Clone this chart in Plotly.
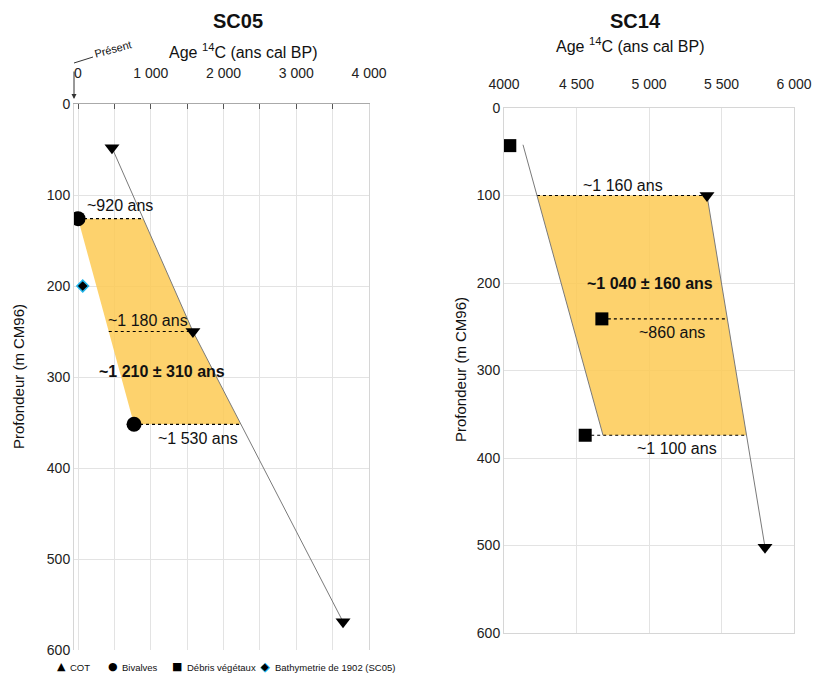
import numpy as np
import plotly.graph_objects as go

# ---------------- data ----------------
# SC05
sc05_cot_age = [467, 1580, 3643]
sc05_cot_depth = [48, 250, 569]
sc05_biv_age = [0, 770]
sc05_biv_depth = [126, 352]
sc05_bathy_age = [65]
sc05_bathy_depth = [200]
sc05_labels = ["~920 ans", "~1 180 ans", "<b>~1 210 ± 310 ans</b>", "~1 530 ans"]
sc05_label_age = [577, 962, 1155, 1650]
sc05_label_depth = [112, 238, 294, 368]
sc05_ticks = [0, 1000, 2000, 3000, 4000]
sc05_ticktext = ["0", "1 000", "2 000", "3 000", "4 000"]

# SC14
sc14_cot_age = [5400, 5800]
sc14_cot_depth = [100, 502]
sc14_veg_age = [4040, 4675, 4560]
sc14_veg_depth = [43, 241, 374]
sc14_model_age = [4131, 4683]
sc14_model_depth = [42, 374]
sc14_labels = ["~1 160 ans", "<b>~1 040 ± 160 ans</b>", "~860 ans", "~1 100 ans"]
sc14_label_age = [4821, 5007, 5159, 5193]
sc14_label_depth = [89, 200, 257, 389]
sc14_ticks = [4000, 4500, 5000, 5500, 6000]
sc14_ticktext = ["4000", "4 500", "5 000", "5 500", "6 000"]

depth_ticks = [0, 100, 200, 300, 400, 500, 600]

legend_items = ["COT", "Bivalves", "Débris végétaux", "Bathymetrie de 1902 (SC05)"]
legend_glyphs = ["▲", "●", "■", "◆"]

# ---------------- styling ----------------
W, H = 816, 684
FONT = "Liberation Sans, Arial, sans-serif"
FILL = "rgba(253,202,84,0.85)"
GRID = "#e3e3e3"
LINE = "#7a7a7a"


def px(x):
    return x / W


def py(y):
    return 1 - y / H


def at(d, depths, ages):
    return float(np.interp(d, depths, ages))


fig = go.Figure()

# ---- SC05 ----
a126 = at(sc05_biv_depth[0], sc05_cot_depth, sc05_cot_age)
a352 = at(sc05_biv_depth[1], sc05_cot_depth, sc05_cot_age)
fig.add_trace(go.Scatter(
    x=[sc05_biv_age[0], a126, sc05_cot_age[1], a352, sc05_biv_age[1], sc05_biv_age[0]],
    y=[sc05_biv_depth[0], sc05_biv_depth[0], sc05_cot_depth[1], sc05_biv_depth[1],
       sc05_biv_depth[1], sc05_biv_depth[0]],
    fill="toself", fillcolor=FILL, mode="lines", line=dict(width=0),
    hoverinfo="skip", showlegend=False, xaxis="x", yaxis="y"))
left250 = at(sc05_cot_depth[1], sc05_biv_depth, sc05_biv_age)
fig.add_trace(go.Scatter(
    x=[sc05_biv_age[0], a126, None, left250, sc05_cot_age[1], None, sc05_biv_age[1], a352],
    y=[sc05_biv_depth[0], sc05_biv_depth[0], None, sc05_cot_depth[1], sc05_cot_depth[1], None,
       sc05_biv_depth[1], sc05_biv_depth[1]],
    mode="lines", line=dict(color="black", width=1.2, dash="dot"),
    showlegend=False, xaxis="x", yaxis="y"))
fig.add_trace(go.Scatter(x=sc05_cot_age, y=sc05_cot_depth, mode="lines",
                         line=dict(color=LINE, width=1), showlegend=False,
                         xaxis="x", yaxis="y"))
fig.add_trace(go.Scatter(x=sc05_cot_age, y=sc05_cot_depth, mode="markers",
                         marker=dict(symbol="triangle-down", size=13, color="black"),
                         name="COT", showlegend=False, xaxis="x", yaxis="y"))
fig.add_trace(go.Scatter(x=sc05_biv_age, y=sc05_biv_depth, mode="markers",
                         marker=dict(symbol="circle", size=15, color="black"),
                         name="Bivalves", showlegend=False, xaxis="x", yaxis="y"))
fig.add_trace(go.Scatter(x=sc05_bathy_age, y=sc05_bathy_depth, mode="markers",
                         marker=dict(symbol="diamond", size=9, color="black",
                                     line=dict(color="#22b5ea", width=1.5)),
                         name="Bathymetrie de 1902 (SC05)", showlegend=False,
                         xaxis="x", yaxis="y"))

# ---- SC14 ----
m100 = at(sc14_cot_depth[0], sc14_model_depth, sc14_model_age)
c374 = at(sc14_model_depth[1], sc14_cot_depth, sc14_cot_age)
c241 = at(sc14_veg_depth[1], sc14_cot_depth, sc14_cot_age)
fig.add_trace(go.Scatter(
    x=[m100, sc14_cot_age[0], c374, sc14_model_age[1], m100],
    y=[sc14_cot_depth[0], sc14_cot_depth[0], sc14_model_depth[1], sc14_model_depth[1],
       sc14_cot_depth[0]],
    fill="toself", fillcolor=FILL, mode="lines", line=dict(width=0),
    hoverinfo="skip", showlegend=False, xaxis="x2", yaxis="y2"))
fig.add_trace(go.Scatter(
    x=[m100, sc14_cot_age[0], None, sc14_veg_age[1], c241, None, sc14_veg_age[2], c374],
    y=[sc14_cot_depth[0], sc14_cot_depth[0], None, sc14_veg_depth[1], sc14_veg_depth[1], None,
       sc14_veg_depth[2], sc14_veg_depth[2]],
    mode="lines", line=dict(color="black", width=1.2, dash="dot"),
    showlegend=False, xaxis="x2", yaxis="y2"))
fig.add_trace(go.Scatter(x=sc14_model_age, y=sc14_model_depth, mode="lines",
                         line=dict(color=LINE, width=1), showlegend=False,
                         xaxis="x2", yaxis="y2"))
fig.add_trace(go.Scatter(x=sc14_cot_age, y=sc14_cot_depth, mode="lines",
                         line=dict(color=LINE, width=1), showlegend=False,
                         xaxis="x2", yaxis="y2"))
fig.add_trace(go.Scatter(x=sc14_cot_age, y=sc14_cot_depth, mode="markers",
                         marker=dict(symbol="triangle-down", size=13, color="black"),
                         name="COT", showlegend=False, xaxis="x2", yaxis="y2"))
fig.add_trace(go.Scatter(x=sc14_veg_age, y=sc14_veg_depth, mode="markers",
                         marker=dict(symbol="square", size=13, color="black"),
                         name="Débris végétaux", showlegend=False, xaxis="x2", yaxis="y2"))

# ---------------- axes ----------------
common_y = dict(range=[600, 0], tickvals=depth_ticks, showgrid=True, gridcolor=GRID,
                zeroline=False, ticks="", tickfont=dict(size=14, color="#222"),
                automargin=False)
fig.update_layout(
    xaxis=dict(domain=[px(74), px(369)], range=[-55, 4000], side="top", anchor="y",
               tickvals=sc05_ticks, ticktext=sc05_ticktext,
               tickfont=dict(size=14, color="#222"), ticks="inside", ticklen=5,
               tickcolor="#555", showgrid=True, gridcolor=GRID, zeroline=False,
               showline=True, linecolor="#aaaaaa", ticklabelstandoff=19,
               minor=dict(tickvals=[500, 1500, 2500, 3500], showgrid=True,
                          gridcolor=GRID, ticks="inside", ticklen=5, tickcolor="#555"),
               automargin=False),
    yaxis=dict(domain=[py(650), py(104)], anchor="x", showline=True, mirror=True,
               linecolor="#d6d6d6", **common_y),
    xaxis2=dict(domain=[px(504), px(794)], range=[4000, 6000], side="top", anchor="y2",
                tickvals=sc14_ticks, ticktext=sc14_ticktext,
                tickfont=dict(size=14, color="#222"), ticks="", showgrid=True,
                gridcolor=GRID, zeroline=False, showline=True, mirror=True,
                linecolor="#d6d6d6", ticklabelstandoff=12, automargin=False,
                ticklabeloverflow="allow"),
    yaxis2=dict(domain=[py(633), py(108)], anchor="x2", showline=True, mirror=True,
                linecolor="#d6d6d6", **common_y),
    width=W, height=H, margin=dict(l=0, r=0, t=0, b=0),
    paper_bgcolor="white", plot_bgcolor="white",
    font=dict(family=FONT, color="#111"), showlegend=False,
)

ann = []
# value labels
for t, a, d in zip(sc05_labels, sc05_label_age, sc05_label_depth):
    ann.append(dict(text=t, x=a, y=d, xref="x", yref="y", showarrow=False,
                    font=dict(size=16, color="#111")))
for t, a, d in zip(sc14_labels, sc14_label_age, sc14_label_depth):
    ann.append(dict(text=t, x=a, y=d, xref="x2", yref="y2", showarrow=False,
                    font=dict(size=16, color="#111")))


def pann(text, x, y, size, family=FONT, color="#111", **kw):
    d = dict(text=text, x=px(x), y=py(y), xref="paper", yref="paper", showarrow=False,
             xanchor="center", yanchor="middle",
             font=dict(size=size, color=color, family=family))
    d.update(kw)
    return d


# titles
ann.append(pann("<b>SC05</b>", 238, 21, 20))
ann.append(pann("Age <sup>14</sup>C (ans cal BP)", 243, 51, 16))
ann.append(pann("<b>SC14</b>", 635, 21, 20))
ann.append(pann("Age <sup>14</sup>C (ans cal BP)", 630, 45, 16))
ann.append(pann("Profondeur (m CM96)", 18, 377, 15, textangle=-90))
ann.append(pann("Profondeur (m CM96)", 460, 370, 15, textangle=-90))
ann.append(pann("Présent", 113, 49, 11, textangle=-15))
# arrow for "Présent"
ann.append(dict(text=" ", x=px(74), y=py(99), xref="paper", yref="paper", showarrow=True,
                ax=0, ay=-36, arrowhead=2, arrowsize=1, arrowwidth=1, arrowcolor="#333"))

# legend
glyph_x = [62, 113, 177, 265]
text_x = [68, 120, 185, 273]
for g, gx, t, tx in zip(legend_glyphs, glyph_x, legend_items, text_x):
    if g == "◆":
        ann.append(pann(g, gx, 666, 13, family="DejaVu Sans", color="#22b5ea"))
        ann.append(pann(g, gx, 666, 10, family="DejaVu Sans", color="black"))
    else:
        ann.append(pann(g, gx, 666, 11, family="DejaVu Sans", color="black"))
    ann.append(pann(t, tx, 667, 9.5, xanchor="left"))

fig.update_layout(annotations=ann,
                  shapes=[dict(type="line", xref="paper", yref="paper",
                               x0=px(93), y0=py(57), x1=px(74), y1=py(63),
                               line=dict(color="#333", width=1))])

fig.write_html("out.html", config={"displayModeBar": False},
               post_script="document.body.style.margin='0';"
                           "document.body.style.overflow='hidden';")
